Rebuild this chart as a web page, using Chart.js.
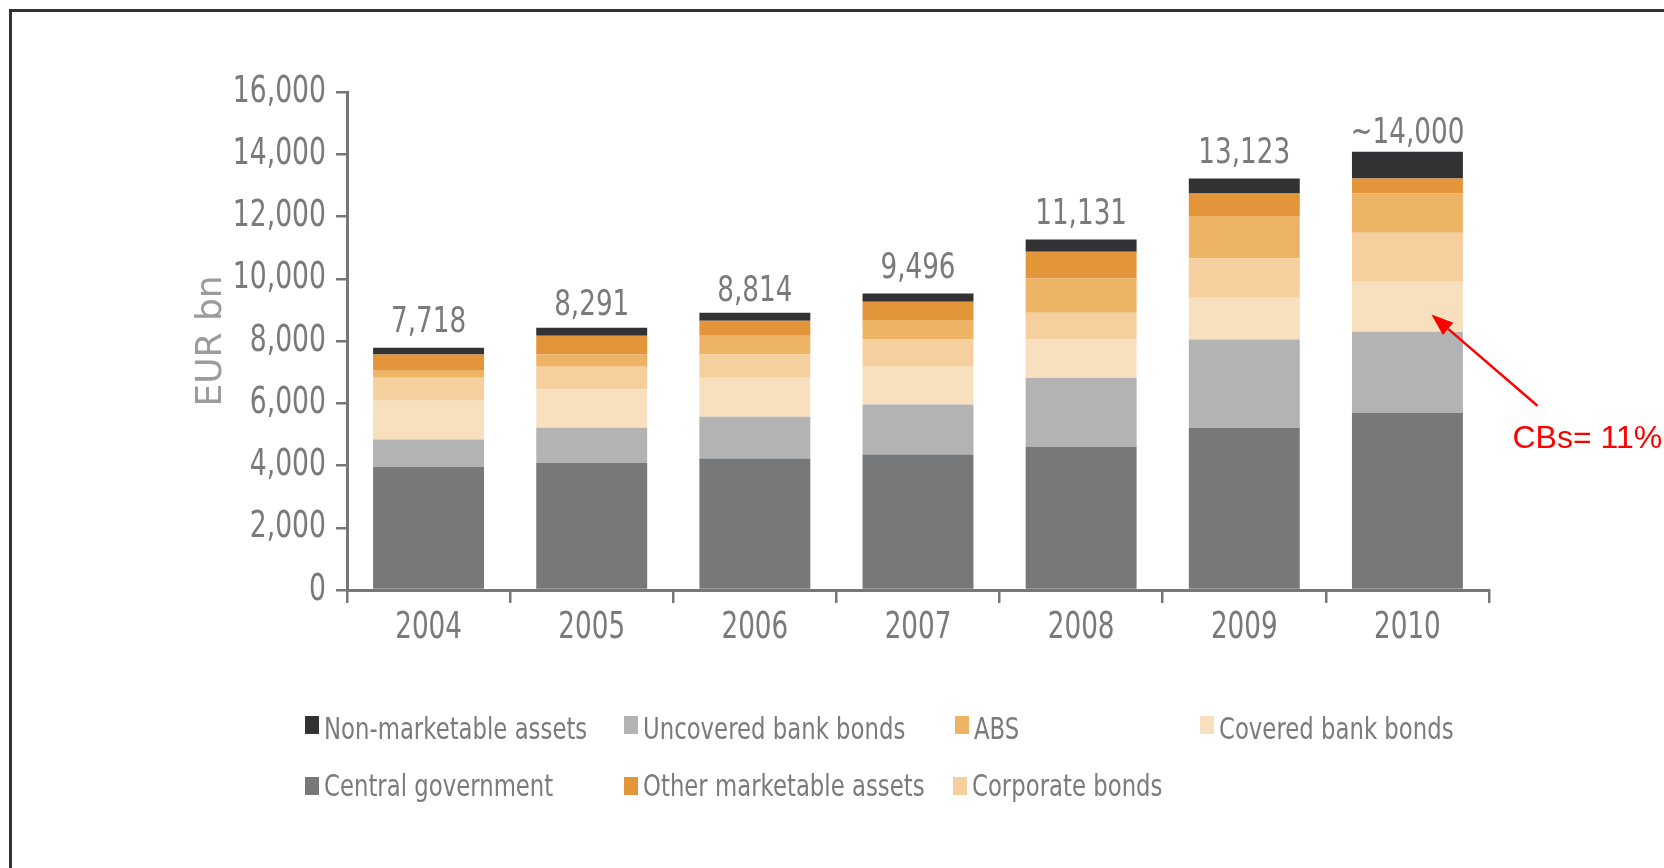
<!DOCTYPE html>
<html>
<head>
<meta charset="utf-8">
<script src="https://cdn.jsdelivr.net/npm/chart.js@4"></script>
<style>
html,body{margin:0;padding:0;background:#fff;width:1664px;height:868px;overflow:hidden;}
#wrap{position:relative;width:1664px;height:868px;}
#c{position:absolute;left:0;top:0;}
#frame{position:absolute;left:9px;top:9px;right:0;bottom:0;border-top:3px solid #333;border-left:3px solid #333;pointer-events:none;}
.lgt{position:absolute;font-family:'DejaVu Sans',Verdana,sans-serif;font-size:30px;line-height:30px;color:#7b7b7b;white-space:nowrap;transform:scaleX(0.76);transform-origin:0 0;}
.lgb{position:absolute;width:14px;height:18px;}
</style>
</head>
<body>
<div id="wrap">
  <canvas id="c" width="1664" height="868"></canvas>
  <div id="frame"></div>
  <div id="legend"></div>
</div>
<script>
// ---- data ----
const years = ['2004', '2005', '2006', '2007', '2008', '2009', '2010'];
const centralGovernment     = [3960, 4086, 4224, 4350, 4602, 5210, 5692];
const uncoveredBankBonds    = [872, 1124, 1343, 1606, 2215, 2835, 2606];
const coveredBankBonds      = [1251, 1228, 1250, 1217, 1228, 1343, 1606];
const corporateBonds        = [735, 735, 746, 872, 861, 1262, 1573];
const absValues             = [229, 390, 608, 608, 1102, 1343, 1262];
const otherMarketableAssets = [517, 608, 482, 609, 860, 746, 482];
const nonMarketableAssets   = [218, 253, 253, 263, 391, 482, 861];
const totalLabels = ['7,718', '8,291', '8,814', '9,496', '11,131', '13,123', '~14,000'];
const yTickLabels = ['0', '2,000', '4,000', '6,000', '8,000', '10,000', '12,000', '14,000', '16,000'];
const annotationText = 'CBs= 11%';

// ---- style ----
const SANS = '"Liberation Sans", Arial, sans-serif';
const VERD = '"DejaVu Sans", Verdana, sans-serif';
const TXT = '#7a7a7a';
const AX = '#777777';
const labelGaps = [16, 13, 12, 16, 16, 15, 9];

const datasets = [
  {label: 'Central government',      data: centralGovernment,     backgroundColor: '#77787a'},
  {label: 'Uncovered bank bonds',    data: uncoveredBankBonds,    backgroundColor: '#b3b3b4'},
  {label: 'Covered bank bonds',      data: coveredBankBonds,      backgroundColor: '#f8e0bf'},
  {label: 'Corporate bonds',         data: corporateBonds,        backgroundColor: '#f6cf9e'},
  {label: 'ABS',                     data: absValues,             backgroundColor: '#eeb466'},
  {label: 'Other marketable assets', data: otherMarketableAssets, backgroundColor: '#e29639'},
  {label: 'Non-marketable assets',   data: nonMarketableAssets,   backgroundColor: '#323234'}
].map(d => Object.assign(d, {borderWidth: 0, barPercentage: 0.68, categoryPercentage: 1.0}));

// draw horizontally condensed text (the reference uses a narrow face)
function narrowText(ctx, text, x, y, align, sx) {
  const w = ctx.measureText(text).width * sx;
  const left = align === 'center' ? x - w / 2 : (align === 'right' ? x - w : x);
  ctx.save();
  ctx.translate(left, y);
  ctx.scale(sx, 1);
  ctx.textAlign = 'left';
  ctx.fillText(text, 0, 0);
  ctx.restore();
}

const textPlugin = {
  id: 'narrowLabels',
  afterDatasetsDraw(chart) {
    const ctx = chart.ctx;
    const xs = chart.scales.x, ys = chart.scales.y;
    const area = chart.chartArea;
    ctx.save();
    ctx.fillStyle = TXT;
    // y tick labels
    ctx.font = '37px ' + VERD;
    ctx.textBaseline = 'middle';
    ys.ticks.forEach((t, i) => narrowText(ctx, yTickLabels[i], area.left - 21, ys.getPixelForValue(t.value), 'right', 0.72));
    // x category labels
    ctx.font = '38px ' + VERD;
    ctx.textBaseline = 'alphabetic';
    years.forEach((yr, i) => narrowText(ctx, yr, xs.getPixelForValue(i), area.bottom + 48, 'center', 0.69));
    // totals above bars
    ctx.font = '35px ' + VERD;
    const meta = chart.getDatasetMeta(chart.data.datasets.length - 1);
    meta.data.forEach((el, i) => narrowText(ctx, totalLabels[i], el.x, el.y - labelGaps[i], 'center', 0.75));
    ctx.restore();
  }
};

const annotationPlugin = {
  id: 'cbsNote',
  afterDraw(chart) {
    const ctx = chart.ctx;
    const el = chart.getDatasetMeta(2).data[6];
    const ys = chart.scales.y;
    const tipX = el.x + 24, tipY = ys.getPixelForValue(8850);
    const tailX = el.x + 130, tailY = ys.getPixelForValue(5920);
    const dx = tipX - tailX, dy = tipY - tailY, len = Math.hypot(dx, dy);
    const ux = dx / len, uy = dy / len;
    const hl = 22, hw = 8;
    const bx = tipX - ux * hl, by = tipY - uy * hl;
    ctx.save();
    ctx.strokeStyle = '#ff0000';
    ctx.fillStyle = '#ff0000';
    ctx.lineWidth = 2.5;
    ctx.beginPath();
    ctx.moveTo(tailX, tailY);
    ctx.lineTo(bx, by);
    ctx.stroke();
    ctx.beginPath();
    ctx.moveTo(tipX, tipY);
    ctx.lineTo(bx - uy * hw, by + ux * hw);
    ctx.lineTo(bx + uy * hw, by - ux * hw);
    ctx.closePath();
    ctx.fill();
    ctx.font = '32px ' + SANS;
    ctx.textAlign = 'left';
    ctx.textBaseline = 'alphabetic';
    ctx.fillText(annotationText, el.x + 105, ys.getPixelForValue(4570));
    ctx.restore();
  }
};

const chart = new Chart(document.getElementById('c'), {
  type: 'bar',
  data: {labels: years, datasets: datasets},
  options: {
    responsive: false,
    animation: false,
    layout: {padding: {left: 0, right: 175, top: 92, bottom: 218}},
    plugins: {legend: {display: false}, tooltip: {enabled: false}},
    scales: {
      x: {
        stacked: true,
        grid: {display: true, drawOnChartArea: false, drawTicks: true, tickLength: 13, color: AX, lineWidth: 2.5, offset: true},
        border: {display: true, color: AX, width: 3},
        ticks: {display: false},
        afterFit(s) { s.height = 60; }
      },
      y: {
        stacked: true,
        min: 0, max: 16000,
        grid: {display: true, drawOnChartArea: false, drawTicks: true, tickLength: 11, color: AX, lineWidth: 2.5},
        border: {display: true, color: AX, width: 3},
        ticks: {display: false, stepSize: 2000},
        title: {display: true, text: 'EUR bn', color: '#9c9c9c',
                font: {family: VERD, size: 36, lineHeight: 1.2},
                padding: {top: 190, bottom: 0}},
        afterFit(s) { s.width = 347; }
      }
    }
  },
  plugins: [textPlugin, annotationPlugin]
});

// ---- HTML legend (column layout as in reference) ----
const legendLayout = [
  {label: 'Non-marketable assets',   x: 305,  row: 0},
  {label: 'Uncovered bank bonds',    x: 624,  row: 0},
  {label: 'ABS',                     x: 955,  row: 0},
  {label: 'Covered bank bonds',      x: 1200, row: 0},
  {label: 'Central government',      x: 305,  row: 1},
  {label: 'Other marketable assets', x: 624,  row: 1},
  {label: 'Corporate bonds',         x: 953,  row: 1}
];
const rowBoxTop = [716, 777];
const rowTextTop = [714, 771];
const lg = document.getElementById('legend');
legendLayout.forEach(item => {
  const ds = datasets.find(d => d.label === item.label);
  const b = document.createElement('div');
  b.className = 'lgb';
  b.style.left = item.x + 'px';
  b.style.top = rowBoxTop[item.row] + 'px';
  b.style.background = ds.backgroundColor;
  lg.appendChild(b);
  const t = document.createElement('div');
  t.className = 'lgt';
  t.style.left = (item.x + 19) + 'px';
  t.style.top = rowTextTop[item.row] + 'px';
  t.textContent = ds.label;
  lg.appendChild(t);
});
</script>
</body>
</html>
